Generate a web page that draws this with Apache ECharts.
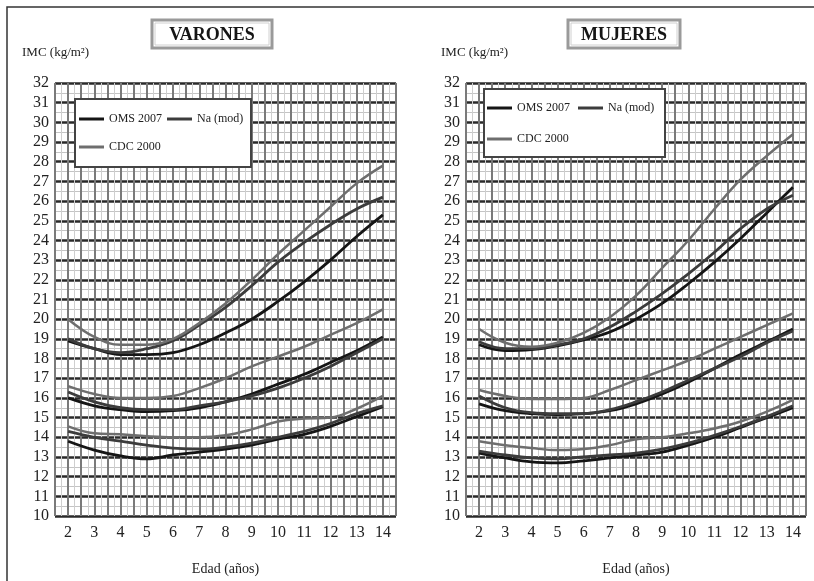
<!DOCTYPE html>
<html>
<head>
<meta charset="utf-8">
<script src="https://cdn.jsdelivr.net/npm/echarts@6/dist/echarts.min.js"></script>
<style>html,body{margin:0;padding:0;background:#fff;}#c{width:814px;height:581px;}</style>
</head>
<body>
<div id="c"></div>
<script>
// ---- Data ----
const ages = [2, 3, 4, 5, 6, 7, 8, 9, 10, 11, 12, 13, 14];
const seriesNames = ['OMS 2007', 'Na (mod)', 'CDC 2000'];
const yTicks = [10, 32, 1];
const xTicks = [1.5, 14.5, 0.5];
const panelTitles = ['VARONES', 'MUJERES'];
const yAxisTitle = 'IMC (kg/m²)';
const xAxisTitle = 'Edad (años)';

// VARONES (boys)
const boysOmsHigh = [18.9, 18.5, 18.2, 18.2, 18.3, 18.7, 19.3, 20.0, 20.9, 21.9, 23.0, 24.2, 25.3];
const boysNaHigh  = [19.0, 18.5, 18.3, 18.5, 18.9, 19.7, 20.6, 21.7, 22.9, 23.9, 24.8, 25.6, 26.2];
const boysCdcHigh = [20.0, 19.1, 18.7, 18.7, 19.0, 19.8, 20.8, 22.0, 23.3, 24.5, 25.7, 26.9, 27.8];
const boysOmsMid  = [16.0, 15.6, 15.4, 15.3, 15.35, 15.5, 15.8, 16.2, 16.7, 17.2, 17.8, 18.4, 19.1];
const boysNaMid   = [16.3, 15.8, 15.5, 15.4, 15.4, 15.6, 15.8, 16.1, 16.5, 17.0, 17.6, 18.3, 19.0];
const boysCdcMid  = [16.6, 16.2, 16.0, 16.0, 16.1, 16.5, 17.0, 17.6, 18.1, 18.6, 19.2, 19.8, 20.5];
const boysOmsLow  = [13.8, 13.35, 13.05, 12.9, 13.1, 13.25, 13.4, 13.6, 13.9, 14.15, 14.55, 15.05, 15.55];
const boysNaLow   = [14.3, 14.0, 13.8, 13.6, 13.45, 13.4, 13.5, 13.7, 14.0, 14.3, 14.7, 15.2, 15.6];
const boysCdcLow  = [14.55, 14.2, 14.15, 14.05, 14.0, 14.0, 14.1, 14.4, 14.8, 14.95, 15.0, 15.45, 16.1];

// MUJERES (girls)
const girlsOmsHigh = [18.7, 18.4, 18.45, 18.65, 18.95, 19.35, 20.0, 20.8, 21.8, 22.9, 24.1, 25.4, 26.7];
const girlsNaHigh  = [18.85, 18.5, 18.5, 18.7, 19.0, 19.6, 20.4, 21.3, 22.3, 23.4, 24.6, 25.6, 26.3];
const girlsCdcHigh = [19.5, 18.8, 18.6, 18.8, 19.3, 20.1, 21.2, 22.6, 24.0, 25.6, 27.1, 28.3, 29.4];
const girlsOmsMid  = [15.7, 15.35, 15.2, 15.15, 15.2, 15.35, 15.7, 16.2, 16.8, 17.5, 18.2, 18.85, 19.5];
const girlsNaMid   = [16.1, 15.5, 15.25, 15.2, 15.2, 15.4, 15.8, 16.3, 16.9, 17.5, 18.1, 18.8, 19.4];
const girlsCdcMid  = [16.4, 16.1, 15.95, 15.95, 16.0, 16.4, 16.9, 17.4, 17.9, 18.5, 19.1, 19.7, 20.3];
const girlsOmsLow  = [13.2, 12.95, 12.75, 12.7, 12.8, 12.95, 13.1, 13.25, 13.6, 14.0, 14.5, 15.0, 15.5];
const girlsNaLow   = [13.3, 13.1, 12.95, 12.9, 13.0, 13.1, 13.2, 13.4, 13.7, 14.1, 14.55, 15.05, 15.6];
const girlsCdcLow  = [13.8, 13.6, 13.45, 13.35, 13.4, 13.6, 13.9, 14.0, 14.2, 14.45, 14.8, 15.3, 15.9];

// ---- Build options ----
const colors = {'OMS 2007': '#151515', 'Na (mod)': '#3c3c3c', 'CDC 2000': '#6e6e6e'};
const serif = '"Liberation Serif", "DejaVu Serif", serif';

const panels = [
  {oms: [boysOmsHigh, boysOmsMid, boysOmsLow], na: [boysNaHigh, boysNaMid, boysNaLow], cdc: [boysCdcHigh, boysCdcMid, boysCdcLow]},
  {oms: [girlsOmsHigh, girlsOmsMid, girlsOmsLow], na: [girlsNaHigh, girlsNaMid, girlsNaLow], cdc: [girlsCdcHigh, girlsCdcMid, girlsCdcLow]}
];

const grids = [
  {left: 55, top: 83, width: 341, height: 439},
  {left: 466, top: 83, width: 340, height: 440}
];

function mkX(i) {
  return {
    type: 'value', gridIndex: i, min: xTicks[0], max: xTicks[1], interval: xTicks[2],
    axisLine: {show: false}, axisTick: {show: false},
    axisLabel: {fontFamily: serif, fontSize: 16, color: '#222', margin: 9,
      formatter: v => (Math.abs(v - Math.round(v)) < 1e-6 ? String(Math.round(v)) : ''), showMinLabel: false, showMaxLabel: false},
    splitLine: {show: true, lineStyle: {color: '#7a7a7a', width: 2}},
    minorTick: {show: false, splitNumber: 2},
    minorSplitLine: {show: true, lineStyle: {color: '#cfcfcf', width: 1}},
    name: xAxisTitle, nameLocation: 'middle', nameGap: 46,
    nameTextStyle: {fontFamily: serif, fontSize: 14, color: '#222'}
  };
}
function mkY(i) {
  return {
    type: 'value', gridIndex: i, min: yTicks[0], max: yTicks[1], interval: yTicks[2],
    axisLine: {show: false}, axisTick: {show: false},
    axisLabel: {fontFamily: serif, fontSize: 16, color: '#222', margin: 6},
    splitLine: {show: true, lineStyle: {color: '#2a2a2a', width: 2.5}},
    minorTick: {show: false, splitNumber: 2},
    minorSplitLine: {show: true, lineStyle: {color: '#c4c4c4', width: 1}}
  };
}

const series = [];
panels.forEach((p, i) => {
  [['OMS 2007', p.oms], ['Na (mod)', p.na], ['CDC 2000', p.cdc]].forEach(([name, arrs]) => {
    arrs.forEach(vals => {
      series.push({
        name: name, type: 'line', xAxisIndex: i, yAxisIndex: i, smooth: 0.4,
        symbol: 'none', z: 3,
        lineStyle: {color: colors[name], width: name === 'CDC 2000' ? 2.5 : 2.8},
        itemStyle: {color: colors[name]},
        data: ages.map((a, k) => [a, vals[k]])
      });
    });
  });
});

const legendBoxes = [
  {x: 75, y: 99, w: 176, h: 68, row1: 113, row2: 141, l1: 79, l2: 167},
  {x: 484, y: 89, w: 181, h: 68, row1: 102, row2: 133, l1: 487, l2: 578}
];
const legends = [];
legendBoxes.forEach(b => {
  const common = {icon: 'rect', itemWidth: 25, itemHeight: 3, itemGap: 10, selectedMode: false, z: 6,
    textStyle: {fontFamily: serif, fontSize: 12, color: '#222'}, padding: 0};
  legends.push(Object.assign({}, common, {data: ['OMS 2007'], left: b.l1, top: b.row1}));
  legends.push(Object.assign({}, common, {data: ['Na (mod)'], left: b.l2, top: b.row1}));
  legends.push(Object.assign({}, common, {data: ['CDC 2000'], left: b.l1, top: b.row2}));
});

const graphics = [
  {type: 'rect', shape: {x: 7, y: 7, width: 840, height: 620}, style: {fill: 'none', stroke: '#333', lineWidth: 1.5}, z: 1},
  {type: 'text', left: 22, top: 46, style: {text: yAxisTitle, font: '13px ' + serif, fill: '#222'}},
  {type: 'text', left: 441, top: 46, style: {text: yAxisTitle, font: '13px ' + serif, fill: '#222'}}
];
[[152, 20, 120, 28, 212, panelTitles[0]], [568, 20, 112, 28, 624, panelTitles[1]]].forEach(([x, y, w, h, cx, t]) => {
  graphics.push({type: 'rect', shape: {x: x, y: y, width: w, height: h}, style: {fill: '#fff', stroke: '#9a9a9a', lineWidth: 3}, z: 5});
  graphics.push({type: 'rect', shape: {x: x + 3, y: y + 3, width: w - 6, height: h - 6}, style: {fill: 'none', stroke: '#d0d0d0', lineWidth: 1}, z: 5});
  graphics.push({type: 'text', x: cx, y: y + h / 2 + 1, style: {text: t, font: 'bold 18px ' + serif, fill: '#151515', textAlign: 'center', textVerticalAlign: 'middle'}, z: 6});
});
legendBoxes.forEach(b => {
  graphics.push({type: 'rect', shape: {x: b.x, y: b.y, width: b.w, height: b.h}, style: {fill: '#fff', stroke: '#444', lineWidth: 2}, z: 5});
});

const chart = echarts.init(document.getElementById('c'), null, {renderer: 'canvas'});
chart.setOption({
  animation: false,
  backgroundColor: '#fff',
  grid: grids,
  xAxis: [mkX(0), mkX(1)],
  yAxis: [mkY(0), mkY(1)],
  legend: legends,
  graphic: graphics,
  series: series
});
</script>
</body>
</html>
